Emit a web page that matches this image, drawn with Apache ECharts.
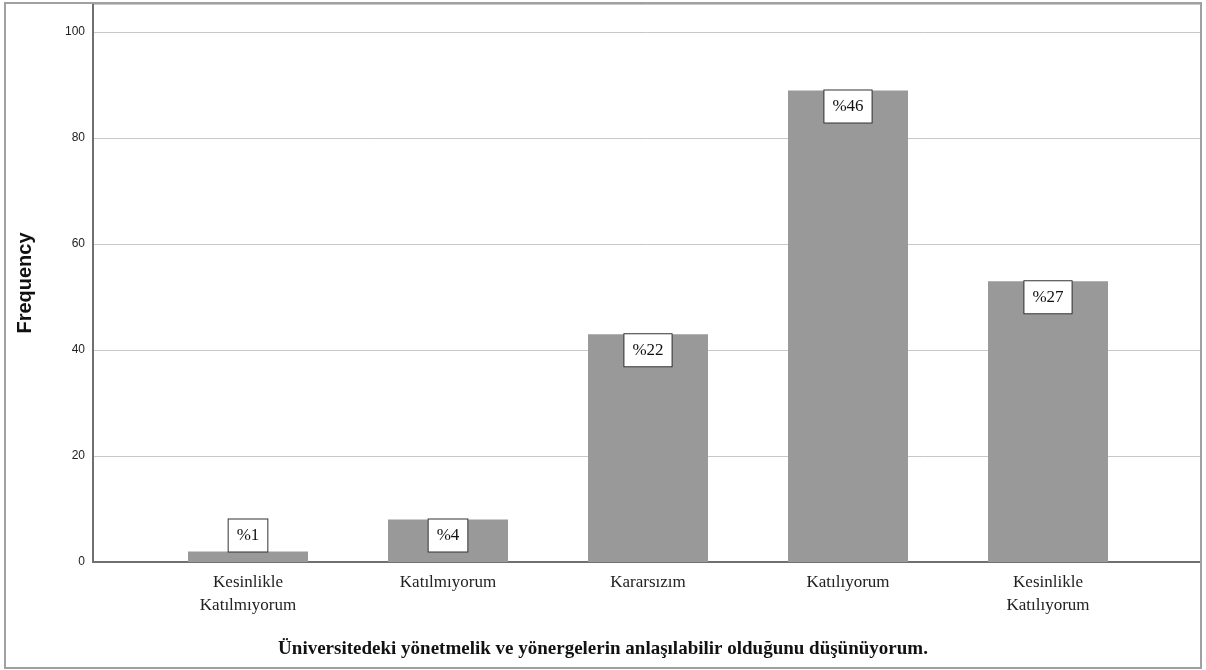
<!DOCTYPE html>
<html>
<head>
<meta charset="utf-8">
<script src="https://cdn.jsdelivr.net/npm/echarts@6/dist/echarts.min.js"></script>
<style>html,body{margin:0;padding:0;background:#fff}#c{width:1206px;height:670px}</style>
</head>
<body>
<div id="c"></div>
<script>
const categories = ["Kesinlikle\nKatılmıyorum", "Katılmıyorum", "Kararsızım", "Katılıyorum", "Kesinlikle\nKatılıyorum"];
const frequencies = [2, 8, 43, 89, 53];
const percentLabels = ["%1", "%4", "%22", "%46", "%27"];
const yTicks = [0, 20, 40, 60, 80, 100];
const xTitle = "Üniversitedeki yönetmelik ve yönergelerin anlaşılabilir olduğunu düşünüyorum.";
const yTitle = "Frequency";

const chart = echarts.init(document.getElementById('c'), null, {renderer: 'canvas'});
const yMax = 105.3;
const serif = '"Liberation Serif", "Times New Roman", serif';
const sans = '"Liberation Sans", Arial, sans-serif';

const barData = frequencies.map((v, i) => ({
  value: v,
  label: { position: v < 6 ? 'top' : 'insideTop' }
}));

chart.setOption({
  backgroundColor: '#ffffff',
  animation: false,
  title: {
    text: xTitle,
    left: 'center',
    top: 635,
    textStyle: { fontFamily: serif, fontWeight: 'bold', fontSize: 19, color: '#111' }
  },
  graphic: [{
    type: 'rect',
    shape: { x: 5, y: 3, width: 1196, height: 665 },
    style: { fill: 'none', stroke: '#a0a0a0', lineWidth: 2 },
    z: 100
  }],
  grid: [
    { left: 93, right: 6, top: 4, bottom: 108 },
    { left: 148, right: 58, top: 4, bottom: 108 }
  ],
  xAxis: [
    {
      gridIndex: 0, type: 'category', data: categories,
      axisLine: { lineStyle: { color: '#707070', width: 2 } },
      axisTick: { show: false }, axisLabel: { show: false }, splitLine: { show: false }
    },
    {
      gridIndex: 1, type: 'category', data: categories,
      axisLine: { show: false }, axisTick: { show: false },
      axisLabel: { fontFamily: serif, fontSize: 17, color: '#222', margin: 9, lineHeight: 23, interval: 0 }
    }
  ],
  yAxis: [
    {
      gridIndex: 0, type: 'value', min: 0, max: yMax, interval: 20,
      name: yTitle, nameLocation: 'middle', nameGap: 58, nameRotate: 90,
      nameTextStyle: { fontFamily: sans, fontWeight: 'bold', fontSize: 20, color: '#111' },
      axisLine: { show: true, lineStyle: { color: '#707070', width: 2 } },
      axisTick: { show: false },
      axisLabel: {
        fontFamily: sans, fontSize: 12, color: '#222', margin: 8, showMaxLabel: false,
        formatter: v => yTicks.includes(v) ? String(v) : ''
      },
      splitLine: { show: true, lineStyle: { color: '#c8c8c8', width: 1 } }
    },
    {
      gridIndex: 1, type: 'value', min: 0, max: yMax, show: false,
      splitLine: { show: false }
    }
  ],
  series: [{
    type: 'bar',
    xAxisIndex: 1, yAxisIndex: 1,
    data: barData,
    barWidth: 120,
    itemStyle: { color: '#999999' },
    label: {
      show: true,
      distance: 0,
      formatter: p => percentLabels[p.dataIndex],
      fontFamily: serif, fontSize: 17, color: '#111',
      backgroundColor: '#ffffff', borderColor: '#333', borderWidth: 1,
      padding: [6, 8, 6, 8], lineHeight: 20
    }
  }]
});
</script>
</body>
</html>
